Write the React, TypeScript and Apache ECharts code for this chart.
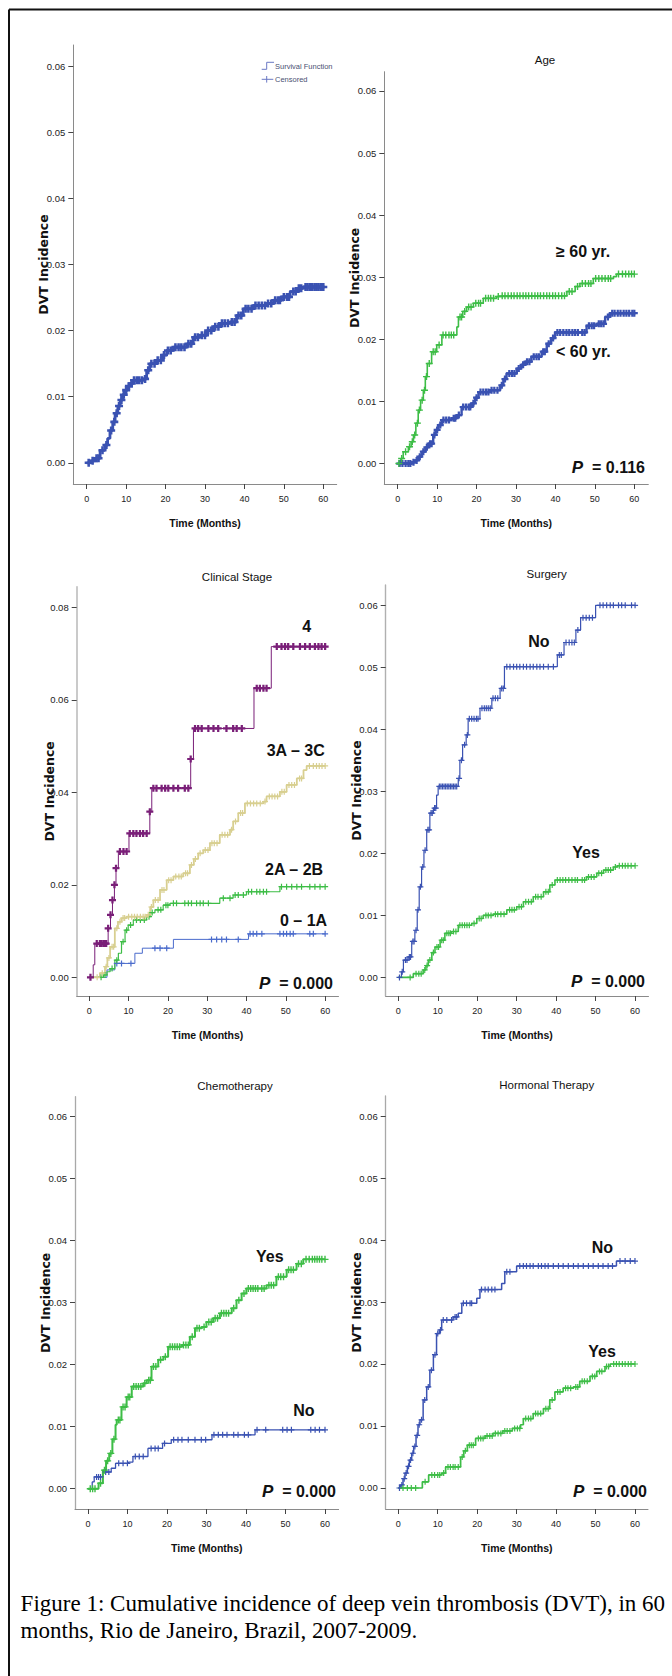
import React, { useEffect, useRef } from "react";
import * as echarts from "echarts";

// ---------- tick labels ----------
const timeTicks = [0, 10, 20, 30, 40, 50, 60];
const incTicks6 = [0, 0.01, 0.02, 0.03, 0.04, 0.05, 0.06];
const incTicks8 = [0, 0.02, 0.04, 0.06, 0.08];

// ---------- Panel 1: overall ----------
const overallCurve = [[0,0],[1,0.0003],[2.1,0.0007],[3.4,0.0019],[4.6,0.0027],[5.3,0.0037],[5.9,0.0049],[6.6,0.0062],[7.2,0.0075],[7.9,0.0086],[8.5,0.0095],[9.1,0.0103],[9.7,0.011],[10.4,0.0116],[11,0.012],[11.8,0.0125],[14.4,0.0127],[15.2,0.014],[16,0.015],[17.7,0.0155],[19,0.0163],[20.3,0.017],[22,0.0175],[25.4,0.018],[27,0.019],[28.7,0.0193],[30.5,0.02],[32.1,0.0206],[33.8,0.0211],[36.4,0.0213],[38,0.0223],[39.7,0.0233],[42.3,0.0238],[45.6,0.0241],[47.4,0.0246],[49.4,0.0251],[51.6,0.0259],[53.3,0.0264],[54.9,0.0266],[60,0.0266]];
const overallCensor = [0.5,1.5,2.5,3,4,5,6.2,7,7.6,8.2,8.8,9.4,10,10.7,11.4,12,12.7,13.3,14,14.8,15.6,16.4,17.2,18,18.8,19.6,20.6,21.3,22.5,23.3,24,24.8,25.8,26.5,27.5,28.2,29.2,30,30.8,31.6,32.6,33.4,34.3,35,35.8,36.8,37.5,38.5,39.2,40.3,41,41.8,42.8,43.6,44.4,45.2,46,46.8,47.8,48.5,49,50,50.8,51.3,52.4,53,53.8,54.4,55.5,56,56.6,57.2,57.8,58.3,58.8,59.4,60];

// ---------- Panel 2: age ----------
const ageOldCurve = [[0,0],[0.8,0.0008],[1.4,0.0019],[2.7,0.0027],[3.4,0.0035],[4,0.0046],[4.6,0.0065],[5.2,0.0086],[5.8,0.0102],[6.5,0.0118],[7,0.014],[7.5,0.0161],[8.6,0.018],[9.9,0.0191],[11.2,0.0207],[14.5,0.0207],[15,0.022],[15.4,0.0236],[16.5,0.0245],[17.5,0.0252],[19.2,0.0258],[21.7,0.0266],[25.1,0.0269],[25.9,0.027],[41.2,0.027],[42.9,0.0277],[45,0.0285],[46.2,0.029],[49.6,0.0298],[54.7,0.0301],[55.5,0.0305],[60,0.0305]];
const ageOldCensor = [0.3,1,2,3,3.7,4.3,5,5.5,6.2,6.8,7.3,8,9,9.5,10.5,11.5,12.2,13,13.6,14.2,15.8,16.2,17,18,18.6,19.8,20.5,21,22.3,23,23.6,24.3,25.5,26.5,27.2,28,28.8,29.5,30.3,31,31.8,32.5,33.2,34,34.8,35.5,36.2,37,37.8,38.5,39.3,40,40.8,41.6,42.3,43.5,44.2,45.6,46.8,47.6,48.4,49,50.2,51,51.8,52.6,53.4,54,56,57,57.8,58.6,59.3,60];
const ageYoungCurve = [[0,0],[2.7,0],[3.5,0.0002],[4.4,0.0005],[5.2,0.0011],[6.1,0.0019],[7,0.0026],[7.8,0.0032],[9,0.0046],[9.6,0.0054],[10.3,0.0062],[11.2,0.007],[13.7,0.0073],[15,0.0078],[16.2,0.0091],[18.8,0.0097],[19.6,0.0106],[20.5,0.0115],[23.4,0.0118],[26,0.0126],[26.8,0.0136],[27.6,0.0145],[30.2,0.0153],[31.3,0.0159],[32.3,0.0164],[33.9,0.0172],[36.5,0.018],[37.8,0.0193],[38.9,0.0202],[39.9,0.0211],[46.2,0.0211],[47.9,0.0222],[50.5,0.0225],[52.6,0.0236],[53.8,0.0242],[60,0.0242]];
const ageYoungCensor = [0.5,1.2,2,2.7,3.2,4,4.8,5.6,6.5,7.4,8.2,8.6,9.3,10,10.8,11.6,12.3,13,14.2,14.6,15.5,16.6,17.3,18,18.4,19.2,20,21,21.7,22.4,23,23.8,24.5,25.3,26.4,27.2,28.3,29,29.6,30.7,31.8,32.8,33.4,34.5,35.2,35.8,36.9,37.3,38.3,39.4,40.5,41.2,42,42.8,43.5,44.3,45,45.7,46.8,47.4,48.5,49.2,49.8,51,51.6,52.2,53.3,54.4,55,55.8,56.5,57.3,58,58.7,59.5,60];

// ---------- Panel 3: clinical stage ----------
const stage4Curve = [[0,0],[1,0.0027],[1.4,0.0073],[4.4,0.0073],[4.8,0.0106],[5.4,0.0135],[5.9,0.0167],[6.4,0.02],[6.8,0.0236],[7.4,0.0272],[10.1,0.0311],[15.4,0.0358],[15.9,0.0409],[25.8,0.0472],[26.5,0.0538],[41.9,0.0625],[46.3,0.0715],[60,0.0715]];
const stage4Censor = [0.3,1.9,2.7,3.1,3.6,4,4.3,4.8,5.4,5.9,6.4,6.8,7.8,8.7,9.5,10.3,11.2,12,12.9,13.7,14.6,15.4,16.3,17.1,18.4,19.3,20.1,21.4,22.6,24.3,25.2,25.8,26.9,27.7,28.6,30.3,31.6,32.8,34.9,36.6,37.5,38.8,42.6,43.4,44.3,45.1,47.7,48.9,49.8,50.6,51.9,53.6,54.9,56.1,57.4,58.3,59.1,60];
const stage3Curve = [[0,0],[1.4,0],[2.7,0.0009],[4,0.0023],[4.6,0.0042],[5.3,0.0066],[6.5,0.0106],[7.3,0.012],[8.2,0.0128],[9.5,0.0131],[14.6,0.0135],[15.5,0.0152],[16.3,0.0167],[18,0.0189],[19.7,0.021],[21.4,0.0218],[23.9,0.0225],[25.6,0.0243],[26.6,0.0256],[27.7,0.0268],[29,0.0275],[30.7,0.029],[33.2,0.0308],[35.8,0.0319],[36.6,0.0337],[37.9,0.0355],[39.6,0.0376],[44.3,0.038],[45.1,0.0391],[48.5,0.0401],[50.2,0.0416],[52.8,0.043],[54.5,0.0448],[55.3,0.0457],[60,0.0457]];
const stage3Censor = [2,3.3,4.3,5,5.8,6.2,7,7.8,8.6,9,10,10.8,11.5,12.2,13,13.7,14.2,15,15.8,16.8,17.5,18.5,19,20.2,20.8,22,22.8,23.4,24.5,25,26,27,28.2,29.5,30.2,31.2,31.8,32.5,33.8,34.5,35.2,36.2,37.2,38.5,39,40.2,41,41.8,42.6,43.5,44.7,45.8,46.5,47.2,47.9,49,49.6,50.8,51.5,52.2,53.5,54,56,57,57.8,58.5,59.2,60];
const stage2Curve = [[0,0],[2.3,0],[3.6,0.0005],[4.5,0.0012],[5.3,0.0019],[6.5,0.0037],[7.4,0.0052],[8.2,0.0077],[9.1,0.0102],[9.9,0.0113],[11.2,0.0124],[14.6,0.0131],[15.6,0.014],[16.7,0.0146],[18.8,0.0156],[20.5,0.016],[31.6,0.016],[33.2,0.0171],[36.6,0.0178],[40,0.0185],[46.8,0.0185],[48.5,0.0196],[60,0.0196]];
const stage2Censor = [3,4,5.8,7,8.6,9.5,10.5,12,13,14,15.2,16,17.5,18.2,19.5,20,21.4,22.2,24.3,25.2,26,27.3,28.2,29,30.3,34.1,35.8,37.1,37.9,39.2,40.5,41.3,42.6,43.4,44.3,45.1,48.9,50.2,51.5,52.8,54,56.1,57.4,58.7,60];
const stage0Curve = [[0,0],[2.7,0],[4.5,0.0016],[6.5,0.003],[11.2,0.003],[11.6,0.0052],[13.5,0.0063],[21.4,0.0082],[40.5,0.0094],[60,0.0094]];
const stage0Censor = [7,8.2,10.6,16.7,18,19.7,31.1,32.4,33.7,34.9,37.9,40.9,41.7,42.6,43.9,48.5,49.4,50.2,51.1,51.9,56.1,57,60];

// ---------- Panel 4: surgery ----------
const surgNoCurve = [[0,0],[0.8,0.0009],[1.3,0.0028],[2.5,0.0033],[3.4,0.0058],[4.2,0.0076],[4.8,0.0109],[5.3,0.0146],[5.9,0.0178],[6.5,0.0205],[7.2,0.0238],[8,0.0265],[8.9,0.0273],[9.7,0.0294],[10.1,0.0308],[15.2,0.0321],[15.6,0.035],[16.3,0.0375],[17.2,0.0391],[17.7,0.0417],[20.7,0.0434],[23.7,0.045],[25.8,0.0466],[26.9,0.0501],[40.3,0.052],[42,0.054],[45,0.056],[46.2,0.058],[50,0.06],[60,0.06]];
const surgNoCensor = [0.3,1,1.8,2.2,2.8,3.1,3.7,4,4.5,5,5.6,6.2,6.8,7.5,7.8,8.3,8.6,9.2,9.5,10.4,10.8,11.2,11.6,12,12.4,12.8,13.2,13.6,14,14.4,14.8,15.4,16,16.8,17.5,18,18.6,19.2,19.8,20.2,21.2,21.8,22.3,22.8,23.3,24,24.6,25.2,26.2,26.6,27.5,28.3,29.2,30,30.8,31.7,32.5,33.4,34.2,35.1,35.9,36.8,38,39.3,40.8,41.3,42.5,43.3,44,44.6,45.5,46.8,47.6,48.4,49.2,51.1,51.9,52.8,53.7,54.5,55.8,56.6,57.5,59.1,60];
const surgYesCurve = [[0,0],[2.5,0],[3.8,0.0006],[6.3,0.0012],[7,0.0019],[7.6,0.0028],[8.5,0.004],[9.3,0.0049],[10.6,0.006],[11.8,0.0071],[13.5,0.0074],[15.2,0.0084],[18.6,0.0087],[19.9,0.0095],[21.5,0.01],[24.1,0.0102],[27.5,0.0109],[30,0.0114],[31.7,0.0122],[34.2,0.013],[36.8,0.0138],[38.4,0.0149],[39.7,0.0157],[46,0.0157],[47.7,0.0162],[50.3,0.0168],[52,0.0173],[54.5,0.0178],[55.5,0.018],[60,0.018]];
const surgYesCensor = [3,4.5,5.2,5.8,6.7,7.3,8,8.9,9.8,10.2,11,11.4,12.3,12.8,13.2,14,14.6,15.6,16.2,16.8,17.4,18,19.2,20.5,21,22.2,22.8,23.5,24.6,25.2,26,26.8,28.2,28.8,29.4,30.6,31.2,32.3,33,33.7,34.8,35.4,36.2,37.4,38,39,40.3,41,41.7,42.4,43.2,44,44.8,45.4,46.6,47.2,48.2,48.9,49.6,50.8,51.5,52.6,53.2,53.8,55,56,56.8,57.5,58.2,59,60];

// ---------- Panel 5: chemotherapy ----------
const chemoYesCurve = [[0,0],[2.2,0],[2.7,0.0009],[3.8,0.003],[4.6,0.0045],[5.4,0.0057],[6.2,0.008],[7,0.0103],[7.3,0.0111],[8.5,0.0132],[9.8,0.0148],[11.1,0.0165],[14,0.017],[14.9,0.0175],[16.1,0.0197],[17.8,0.0208],[19.1,0.0213],[20.3,0.0229],[23.7,0.0232],[25.8,0.0245],[27.1,0.0259],[28.8,0.0261],[30,0.0269],[31.7,0.0275],[33.4,0.0283],[36.4,0.0291],[37.6,0.0304],[38.9,0.0315],[40.1,0.0323],[43.5,0.0323],[45.2,0.0328],[47.7,0.0342],[50.3,0.0353],[52.8,0.0363],[54.5,0.037],[60,0.037]];
const chemoYesCensor = [0.6,1.2,1.8,3.2,4.2,5,5.8,6.6,7.7,8.1,8.9,9.4,10.2,10.6,11.6,12.2,12.8,13.4,14.4,15.4,15.8,16.6,17.2,18.4,19.6,20.8,21.4,22,22.6,23.2,24.2,24.8,25.4,26.4,27.6,28.2,29.4,30.6,31.2,32.2,32.8,33.8,34.4,35,35.6,36.9,38.2,39.5,40.6,41.2,41.8,42.4,43,44,44.6,45.8,46.4,47,48.2,48.8,49.5,50.8,51.4,52,53.3,54,55.2,56,56.8,57.4,58,58.6,59.2,60];
const chemoNoCurve = [[0,0],[1.1,0.0011],[1.6,0.0019],[3.8,0.0027],[5.9,0.0033],[7,0.0041],[10.3,0.0043],[11.4,0.0052],[15.2,0.0065],[18.9,0.0073],[21.1,0.0079],[31.4,0.0087],[42.3,0.0095],[60,0.0095]];
const chemoNoCensor = [2.2,2.7,3.2,4.5,5.3,7.8,8.9,10,12,13,14,16,17,17.8,19.4,21.7,22.8,23.8,25.4,27.1,28.7,29.8,31.9,33,34.1,35.2,36.9,38,39.6,40.6,42.8,45,49.3,50.4,51.5,56.4,57.5,58.6,60];

// ---------- Panel 6: hormonal therapy ----------
const hormNoCurve = [[0,0],[0.6,0.0005],[1.2,0.0015],[1.7,0.0024],[2.3,0.0035],[2.8,0.0045],[3.4,0.0056],[3.9,0.0067],[4.5,0.0085],[5,0.0102],[5.5,0.011],[6.3,0.0142],[7.2,0.0163],[8,0.019],[8.9,0.0215],[9.7,0.0249],[10.4,0.0255],[11,0.0271],[13.9,0.0276],[15.2,0.0282],[16.1,0.0298],[19.9,0.0306],[20.7,0.032],[26.2,0.033],[27,0.0349],[30,0.0358],[55.3,0.0366],[60,0.0366]];
const hormNoCensor = [0.3,0.9,1.5,2,2.6,3.1,3.7,4.2,4.8,5.3,5.9,6.7,7.6,8.4,9.3,10,10.7,11.4,12.3,13.5,14.4,14.8,16.5,17.3,18.2,18.6,21.1,22,22.8,23.7,24.5,27.5,28.3,30.8,31.7,32.5,33.4,34.2,35.5,36.3,37.2,38,39.3,40.6,41.8,43.1,44.4,45.6,46.9,48.2,49.4,50.7,51.9,53.2,54.3,56.2,57.5,58.8,60];
const hormYesCurve = [[0,0],[5,0],[6.1,0.001],[7.7,0.0021],[11,0.0024],[12,0.0034],[14.7,0.0034],[15.8,0.005],[16.6,0.006],[17.5,0.0069],[19.6,0.008],[22,0.0084],[24,0.0088],[26.5,0.0092],[28.9,0.0096],[31,0.0102],[31.7,0.0112],[34.2,0.012],[36.8,0.0128],[38.4,0.0142],[39.7,0.0155],[41.8,0.0161],[44.4,0.0163],[46,0.0172],[48.6,0.018],[50.3,0.0188],[52.4,0.0196],[53.7,0.02],[60,0.02]];
const hormYesCensor = [1.2,2.3,3.3,4.4,6.8,8.5,9.2,10,10.5,11.5,12.6,13.2,13.9,14.4,15.2,16.2,17,18,18.5,19,20.3,20.9,21.5,22.5,23.2,23.8,24.6,25.3,26,27,27.6,28.3,29.5,30.2,30.8,32.3,33,33.6,34.8,35.4,36.1,37.4,38,39,40.4,41,42.4,43,43.7,45,45.5,46.6,47.2,47.9,49.2,49.8,51,51.6,52.8,53.3,54.6,55.3,56,56.8,57.5,58.3,59,60];

// ---------- styling ----------
const ARIAL = "'Liberation Sans', Arial, sans-serif";
const DEJAVU = "'DejaVu Sans', sans-serif";
const SERIF = "'Liberation Serif', 'Times New Roman', serif";

const BLUE = "#3a52b2";
const BLUE2 = "#4a6bcc";
const GREEN = "#3dbd46";
const PURPLE = "#7a1f78";
const TAN = "#d8cf90";

const PLUS = "path://M-1,-5L1,-5L1,-1L5,-1L5,1L1,1L1,5L-1,5L-1,1L-5,1L-5,-1L-1,-1Z";
const PLUS_BOLD = "path://M-1.6,-5L1.6,-5L1.6,-1.6L5,-1.6L5,1.6L1.6,1.6L1.6,5L-1.6,5L-1.6,1.6L-5,1.6L-5,-1.6L-1.6,-1.6Z";

// layout of the six plots (pixels)
const layouts = [
  { left: 73.3, top: 45, width: 263.4, height: 439, xMin: -3.4, xMax: 63.4, yMin: -0.0032, yMax: 0.0632, axisColor: "#8a8a8a", axisWidth: 1 },
  { left: 384.3, top: 71.7, width: 264, height: 412.3, xMin: -3.4, xMax: 63.55, yMin: -0.0033, yMax: 0.0631, axisColor: "#8a8a8a", axisWidth: 1 },
  { left: 76.7, top: 586.7, width: 261.8, height: 409.3, xMin: -3.2, xMax: 63.4, yMin: -0.00404, yMax: 0.08445, axisColor: "#bdbdbd", axisWidth: 1.6 },
  { left: 385.7, top: 585, width: 262.8, height: 411, xMin: -3.19, xMax: 63.4, yMin: -0.003, yMax: 0.06327, axisColor: "#b0b0b0", axisWidth: 1.4 },
  { left: 75, top: 1096.7, width: 263.6, height: 412.3, xMin: -3.26, xMax: 63.44, yMin: -0.00327, yMax: 0.06323, axisColor: "#a8a8a8", axisWidth: 1.3 },
  { left: 385.7, top: 1096, width: 262.3, height: 413, xMin: -3.19, xMax: 63.3, yMin: -0.00339, yMax: 0.06323, axisColor: "#a8a8a8", axisWidth: 1.3 },
];

function valueAt(curve: number[][], t: number) {
  let v = 0;
  for (const p of curve) if (p[0] <= t) v = p[1];
  return v;
}

type Curve = { curve: number[][]; censor: number[]; color: string; lw: number; ms: number; bold?: boolean };

const panelCurves: Curve[][] = [
  [{ curve: overallCurve, censor: overallCensor, color: BLUE, lw: 2.8, ms: 8, bold: true }],
  [
    { curve: ageYoungCurve, censor: ageYoungCensor, color: BLUE, lw: 2.4, ms: 7, bold: true },
    { curve: ageOldCurve, censor: ageOldCensor, color: GREEN, lw: 1.6, ms: 7 },
  ],
  [
    { curve: stage0Curve, censor: stage0Censor, color: BLUE2, lw: 1, ms: 6 },
    { curve: stage2Curve, censor: stage2Censor, color: GREEN, lw: 1.2, ms: 6 },
    { curve: stage3Curve, censor: stage3Censor, color: TAN, lw: 1.8, ms: 6 },
    { curve: stage4Curve, censor: stage4Censor, color: PURPLE, lw: 1, ms: 7, bold: true },
  ],
  [
    { curve: surgNoCurve, censor: surgNoCensor, color: BLUE, lw: 1.2, ms: 6 },
    { curve: surgYesCurve, censor: surgYesCensor, color: GREEN, lw: 1.6, ms: 6 },
  ],
  [
    { curve: chemoNoCurve, censor: chemoNoCensor, color: BLUE, lw: 1.3, ms: 6 },
    { curve: chemoYesCurve, censor: chemoYesCensor, color: GREEN, lw: 2, ms: 7 },
  ],
  [
    { curve: hormNoCurve, censor: hormNoCensor, color: BLUE, lw: 1.5, ms: 6 },
    { curve: hormYesCurve, censor: hormYesCensor, color: GREEN, lw: 1.7, ms: 6 },
  ],
];

function txt(x: number, y: number, text: string, opts: any = {}) {
  return {
    type: "text",
    x,
    y,
    silent: true,
    style: {
      text,
      fill: opts.fill || "#111",
      fontSize: opts.fontSize || 16,
      fontWeight: opts.fontWeight || "bold",
      fontFamily: opts.fontFamily || ARIAL,
      fontStyle: opts.fontStyle || "normal",
      align: opts.align || "left",
      verticalAlign: "middle",
    },
  };
}

function pText(xRight: number, y: number, value: string) {
  return {
    type: "text",
    x: xRight,
    y,
    silent: true,
    style: {
      text: "{p|P}{v|  = " + value + "}",
      align: "right",
      verticalAlign: "middle",
      fill: "#111",
      fontSize: 16,
      fontWeight: "bold",
      fontFamily: ARIAL,
      rich: {
        p: { fontStyle: "italic", fontWeight: "bold", fontSize: 17, fontFamily: ARIAL, fill: "#111" },
        v: { fontWeight: "bold", fontSize: 16, fontFamily: ARIAL, fill: "#111" },
      },
    },
  };
}

export default function App() {
  const ref = useRef<HTMLDivElement>(null);

  useEffect(() => {
    document.body.style.margin = "0";
    const chart = echarts.init(ref.current!, null, { renderer: "svg" });

    const grid = layouts.map((l) => ({
      left: l.left,
      top: l.top,
      width: l.width,
      height: l.height,
      containLabel: false,
      outerBoundsMode: "none",
    }));

    const xAxis = layouts.map((l, i) => ({
      type: "value",
      gridIndex: i,
      min: l.xMin,
      max: l.xMax,
      axisLine: { show: true, onZero: false, lineStyle: { color: "#8a8a8a", width: 1 } },
      axisTick: { show: true, length: 5, customValues: timeTicks, lineStyle: { color: "#444", width: 1 } },
      axisLabel: { show: true, customValues: timeTicks, fontSize: 9, color: "#222", fontFamily: ARIAL, margin: 10 },
      splitLine: { show: false },
      name: "Time (Months)",
      nameLocation: "middle",
      nameGap: 33,
      nameMoveOverlap: false,
      nameTextStyle: { fontFamily: ARIAL, fontWeight: "bold", fontSize: 10.5, color: "#111" },
    }));

    const yAxis = layouts.map((l, i) => {
      const ticks = i === 2 ? incTicks8 : incTicks6;
      return {
        type: "value",
        gridIndex: i,
        min: l.yMin,
        max: l.yMax,
        axisLine: { show: true, onZero: false, lineStyle: { color: l.axisColor, width: l.axisWidth } },
        axisTick: { show: true, length: 5, customValues: ticks, lineStyle: { color: "#444", width: 1 } },
        axisLabel: {
          show: true,
          customValues: ticks,
          formatter: (v: number) => v.toFixed(2),
          fontSize: 9.5,
          color: "#222",
          fontFamily: ARIAL,
          margin: 8,
        },
        splitLine: { show: false },
        name: "DVT Incidence",
        nameLocation: "middle",
        nameGap: i === 2 ? 21 : 23,
        nameMoveOverlap: false,
        nameTextStyle: { fontFamily: DEJAVU, fontWeight: "bold", fontSize: 12.5, color: "#111" },
      };
    });

    const series: any[] = [];
    panelCurves.forEach((curves, i) => {
      curves.forEach((c) => {
        series.push({
          type: "line",
          xAxisIndex: i,
          yAxisIndex: i,
          data: c.curve,
          step: "end",
          showSymbol: false,
          silent: true,
          lineStyle: { color: c.color, width: c.lw },
          z: 2,
        });
        series.push({
          type: "scatter",
          xAxisIndex: i,
          yAxisIndex: i,
          data: c.censor.map((t) => [t, valueAt(c.curve, t)]),
          symbol: c.bold ? PLUS_BOLD : PLUS,
          symbolSize: c.ms,
          silent: true,
          itemStyle: { color: c.color, opacity: 1 },
          z: 3,
        });
      });
    });

    const graphic: any[] = [
      // figure frame
      { type: "line", silent: true, shape: { x1: 9, y1: 9.5, x2: 672, y2: 9.5 }, style: { stroke: "#111", lineWidth: 2 } },
      { type: "line", silent: true, shape: { x1: 9, y1: 9.5, x2: 9, y2: 1676 }, style: { stroke: "#111", lineWidth: 2 } },
      // legend in panel 1
      { type: "polyline", silent: true, shape: { points: [[261.7, 69.3], [266.7, 69.3], [266.7, 62.3], [274, 62.3]] }, style: { stroke: "#6a78c4", lineWidth: 1, fill: null } },
      { type: "line", silent: true, shape: { x1: 261.7, y1: 79.3, x2: 273.3, y2: 79.3 }, style: { stroke: "#6a78c4", lineWidth: 1 } },
      { type: "line", silent: true, shape: { x1: 266.7, y1: 76, x2: 266.7, y2: 82.6 }, style: { stroke: "#6a78c4", lineWidth: 1 } },
      txt(275, 66, "Survival Function", { fontSize: 7.5, fontWeight: "normal", fill: "#4a4f72" }),
      txt(275, 79.3, "Censored", { fontSize: 7.5, fontWeight: "normal", fill: "#4a4f72" }),
      // titles
      txt(545, 60, "Age", { fontSize: 11.5, fontWeight: "normal", align: "center" }),
      txt(237, 576.7, "Clinical Stage", { fontSize: 11.5, fontWeight: "normal", align: "center" }),
      txt(546.7, 574.3, "Surgery", { fontSize: 11.5, fontWeight: "normal", align: "center" }),
      txt(235, 1086, "Chemotherapy", { fontSize: 11.5, fontWeight: "normal", align: "center" }),
      txt(546.7, 1085, "Hormonal Therapy", { fontSize: 11.5, fontWeight: "normal", align: "center" }),
      // curve labels
      txt(556, 251.7, "≥ 60 yr."),
      txt(556, 351, "< 60 yr."),
      txt(306.7, 626.7, "4", { align: "center" }),
      txt(266.7, 750, "3A – 3C"),
      txt(265, 869.3, "2A – 2B"),
      txt(280, 920, "0 – 1A"),
      txt(528.3, 641.7, "No"),
      txt(572.3, 852.3, "Yes"),
      txt(256, 1256.7, "Yes"),
      txt(293.3, 1410, "No"),
      txt(591.7, 1247.3, "No"),
      txt(588.3, 1351, "Yes"),
      // P values
      pText(645, 467.3, "0.116"),
      pText(333, 983, "0.000"),
      pText(645, 981.7, "0.000"),
      pText(336, 1491.7, "0.000"),
      pText(647, 1491.7, "0.000"),
      // caption
      txt(20.6, 1603, "Figure 1: Cumulative incidence of deep vein thrombosis (DVT), in 60", { fontFamily: SERIF, fontSize: 23, fontWeight: "normal", fill: "#000" }),
      txt(20.6, 1630, "months, Rio de Janeiro, Brazil, 2007-2009.", { fontFamily: SERIF, fontSize: 23, fontWeight: "normal", fill: "#000" }),
    ];

    chart.setOption({
      animation: false,
      backgroundColor: "#ffffff",
      grid,
      xAxis,
      yAxis,
      series,
      graphic,
    });

    return () => chart.dispose();
  }, []);

  return (
    <div
      ref={ref}
      style={{ position: "absolute", left: 0, top: 0, width: 672, height: 1676, background: "#fff" }}
    />
  );
}
